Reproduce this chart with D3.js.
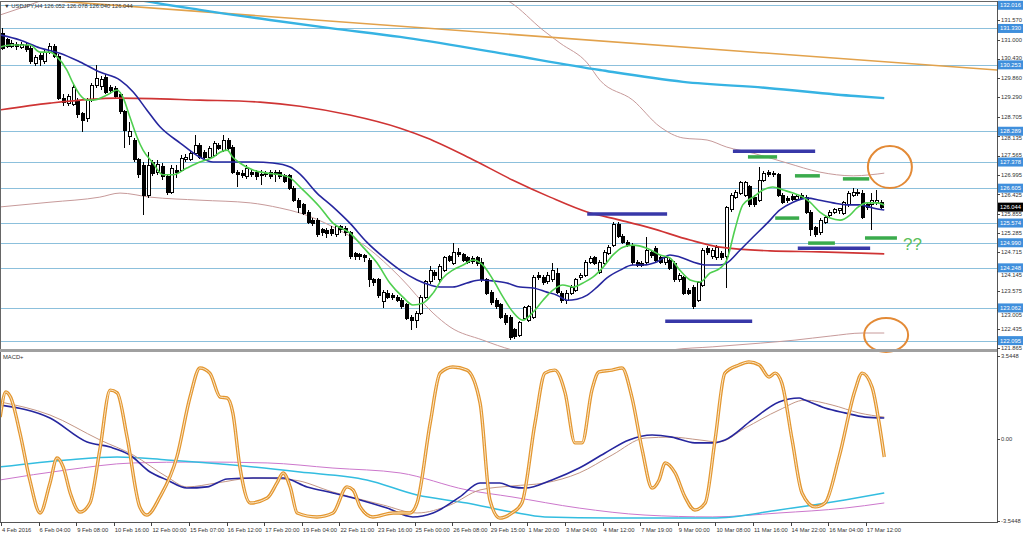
<!DOCTYPE html>
<html><head><meta charset="utf-8">
<script src="https://cdn.jsdelivr.net/npm/d3@7"></script>
<style>body{margin:0;background:#fff}svg{display:block}</style>
</head><body><svg id="c" width="1024" height="540"></svg>
<script>
// ---------- DATA ----------
const opens = [131.19,130.99,130.81,130.87,130.78,130.84,130.75,130.28,130.54,130.34,
130.63,130.81,130.51,129.27,129.12,129.09,129.21,128.80,128.68,129.21,
129.65,129.62,129.89,129.57,129.54,129.39,128.86,128.12,128.03,127.44,
127.29,126.40,127.35,127.08,127.26,126.94,126.49,127.14,127.14,127.44,
127.46,127.64,127.88,127.67,127.52,127.58,127.88,127.73,128.03,127.82,
127.08,127.05,126.94,127.08,127.08,127.02,127.05,127.08,127.08,127.08,
126.97,126.97,126.61,126.25,126.11,125.90,125.66,125.66,125.37,125.34,
125.37,125.22,125.46,125.40,125.28,124.66,124.63,124.60,124.48,123.89,
123.89,123.24,123.50,123.44,123.38,123.29,123.15,122.79,122.70,122.91,
123.38,123.83,124.12,123.89,124.18,124.57,124.39,124.71,124.63,124.54,
124.51,124.54,124.42,123.89,123.53,123.29,123.15,122.85,122.79,122.41,
122.26,122.76,122.70,122.79,124.03,123.97,123.83,123.89,124.09,123.50,
123.29,123.50,123.59,123.95,124.03,124.42,124.54,124.12,124.39,124.68,
124.92,125.54,125.19,125.01,124.92,124.42,124.39,124.42,124.71,124.83,
124.54,124.42,124.48,124.39,123.89,123.95,123.59,123.68,123.29,123.74,
124.83,124.57,124.54,124.68,124.57,125.96,126.34,126.46,126.40,126.64,
126.34,126.25,126.84,127.08,127.05,127.00,126.40,126.31,126.37,126.28,
126.40,126.34,125.90,125.43,125.28,125.60,125.81,125.90,125.93,125.87,
126.11,126.40,126.46,126.46,126.11,126.11,126.17,126.17];
const closes = [130.75,130.81,130.90,130.81,130.87,130.72,130.34,130.46,130.40,130.63,
130.81,130.51,129.27,129.15,129.33,129.57,128.77,128.62,129.21,129.65,
129.86,129.83,129.45,129.48,129.33,128.86,128.32,128.29,127.44,127.00,
126.40,127.29,127.05,127.32,126.94,126.49,127.20,127.08,127.49,127.52,
127.64,127.88,127.52,127.52,127.79,127.94,127.79,128.03,127.79,127.08,
127.00,126.97,127.20,127.00,126.94,126.97,127.00,126.94,127.02,126.94,
126.81,126.61,126.25,126.02,125.87,125.60,125.57,125.22,125.28,125.25,
125.25,125.46,125.37,125.28,124.57,124.57,124.57,124.54,123.89,123.80,
123.44,123.53,123.38,123.38,123.29,123.09,122.76,122.70,122.91,123.38,
123.83,124.18,124.03,124.30,124.54,124.48,124.71,124.63,124.48,124.42,
124.45,124.39,123.89,123.50,123.21,123.09,122.79,122.62,122.20,122.23,
122.62,123.06,123.09,123.97,123.95,123.80,124.03,124.18,123.53,123.29,
123.50,123.68,123.89,124.03,124.42,124.51,124.39,124.42,124.71,124.86,
125.54,125.19,125.01,124.92,124.42,124.33,124.33,124.77,124.60,124.48,
124.42,124.54,124.24,123.89,124.03,123.50,123.50,123.09,123.80,124.77,
124.71,124.77,124.86,124.54,126.02,126.40,126.49,126.76,126.76,126.11,
126.11,126.84,127.05,127.00,127.00,126.40,126.19,126.25,126.28,126.37,
126.31,125.90,125.37,125.22,125.66,125.75,125.90,125.96,125.99,126.17,
126.46,126.49,126.49,125.75,126.02,126.25,126.25,126.044];
const highs = [131.34,131.05,130.99,130.93,130.93,130.90,130.81,130.54,130.63,130.69,
130.90,130.87,130.57,129.39,129.39,129.65,129.27,128.86,129.27,129.71,
130.25,129.92,129.98,129.65,129.62,129.45,128.92,128.56,128.09,127.49,
127.38,127.67,127.44,127.44,127.35,127.00,127.29,127.29,127.58,127.61,
127.73,128.17,127.94,127.73,127.85,128.00,127.94,128.17,128.09,127.88,
127.14,127.14,127.29,127.14,127.14,127.14,127.11,127.14,127.14,127.14,
127.02,127.02,126.67,126.31,126.17,125.96,125.72,125.72,125.43,125.43,
125.48,125.51,125.51,125.48,125.34,124.71,124.68,124.66,124.54,123.95,
123.95,123.59,123.59,123.50,123.44,123.35,123.21,122.85,122.97,123.44,
123.89,124.30,124.18,124.36,124.60,124.63,124.98,124.83,124.68,124.60,
124.60,124.60,124.54,123.95,123.59,123.35,123.21,122.91,122.85,122.47,
122.67,123.12,123.15,124.03,124.12,124.03,124.12,124.39,124.24,123.56,
123.59,123.74,123.95,124.09,124.48,124.60,124.60,124.48,124.77,124.92,
125.60,125.60,125.25,125.07,124.98,124.48,124.45,125.16,124.77,124.89,
124.60,124.60,124.54,124.45,124.09,124.00,123.65,123.74,123.86,124.83,
124.89,124.83,124.92,124.74,126.08,126.46,126.55,126.81,126.81,126.70,
126.40,127.23,127.11,127.14,127.11,127.05,126.46,126.37,126.43,126.43,
126.46,126.40,125.96,125.48,125.72,125.81,125.96,126.02,126.02,126.22,
126.52,126.61,126.58,126.55,126.17,126.46,126.55,126.25];
const lows = [130.69,130.75,130.75,130.69,130.72,130.63,130.28,130.22,130.22,130.28,
130.57,130.46,129.21,129.03,129.03,129.03,128.68,128.26,128.56,129.15,
129.57,129.51,129.39,129.39,129.27,128.80,127.79,127.88,127.38,126.91,
125.81,126.31,126.97,127.00,126.84,126.40,126.43,126.91,127.08,127.38,
127.41,127.58,127.46,127.44,127.46,127.52,127.73,127.67,127.73,127.02,
126.64,126.91,126.88,126.94,126.84,126.70,126.94,126.88,126.79,126.88,
126.76,126.55,126.19,125.87,125.81,125.54,125.48,125.16,125.19,125.13,
125.19,125.16,125.28,125.19,124.51,124.48,124.48,124.42,123.68,123.71,
123.35,123.06,123.32,123.29,123.24,123.03,122.70,122.41,122.47,122.85,
123.32,123.77,123.89,123.83,124.12,124.42,124.33,124.57,124.42,124.36,
124.36,124.30,123.83,123.44,123.15,123.03,122.73,122.56,122.11,122.14,
122.20,122.70,122.65,122.73,123.89,123.74,123.77,123.83,123.47,123.21,
123.18,123.44,123.53,123.89,123.97,124.36,124.33,124.06,124.33,124.63,
124.86,125.13,124.95,124.86,124.33,124.27,124.27,124.36,124.54,124.42,
124.36,124.33,124.18,123.83,123.83,123.44,123.44,123.03,123.24,123.68,
124.63,124.51,124.48,124.48,123.65,125.90,126.28,126.40,126.34,126.05,
126.05,126.19,126.79,126.94,126.94,126.34,126.14,126.17,126.22,126.22,
126.25,125.84,125.19,125.16,125.22,125.54,125.75,125.84,125.84,125.81,
126.05,126.34,126.37,125.69,125.96,125.37,126.11,125.99];

// indicator lines: [bar index, value]
const greenMA = [[-0.6,130.78],[1.5,130.84],[5.7,130.84],[7.9,130.63],[10,130.63],[11.5,130.49],[13.6,130.10],[14.9,129.71],[16.4,129.36],[17.9,129.21],[19.1,129.21],[22.1,129.36],[24.3,129.51],[25.5,129.30],[27,128.71],[28.5,128.12],[29.8,127.73],[31.9,127.35],[34,127.00],[36.2,127.00],[39.1,127.20],[41.9,127.38],[44.7,127.52],[46.2,127.67],[47.7,127.73],[48.9,127.52],[50.4,127.35],[53.2,127.14],[56.2,127.05],[58.9,127.00],[61.1,126.91],[63.2,126.64],[67.4,126.05],[70.2,125.57],[73.8,125.28],[76.6,124.86],[79.6,124.39],[82.3,123.80],[85.1,123.38],[87.2,123.15],[89.4,123.21],[91.5,123.50],[93.6,123.95],[95.7,124.18],[97.9,124.33],[100,124.48],[102.1,124.33],[104.3,123.89],[106.4,123.38],[108.5,122.94],[110.6,122.70],[112.8,122.94],[114.9,123.29],[117,123.59],[119.1,123.74],[121.3,123.68],[123.4,123.80],[125.5,123.97],[127.7,124.27],[129.8,124.63],[131.9,124.86],[134,124.92],[137,124.83],[139.8,124.63],[141.9,124.54],[144,124.18],[146.2,123.89],[148.3,123.83],[150.4,124.09],[152.6,124.24],[154,124.48],[155.7,125.37],[157.4,126.11],[159.6,126.34],[161.7,126.55],[163.8,126.64],[166,126.55],[168.1,126.46],[170.2,126.34],[171.7,126.19],[173.8,125.90],[176,125.72],[178.1,125.66],[180.2,125.81],[181.7,126.02],[183.8,126.17],[186,126.17],[187.5,126.11]];
const blueMA = [[-0.6,131.14],[3.6,130.99],[7.9,130.75],[12.1,130.60],[16.4,130.34],[20.6,130.04],[24.9,129.80],[27.7,129.45],[30.6,128.92],[33.4,128.42],[37.7,127.94],[41.9,127.52],[44.7,127.38],[48.9,127.38],[53.2,127.38],[57.4,127.35],[61.1,127.23],[63.2,127.02],[66.8,126.46],[70.2,126.05],[73.8,125.57],[77.4,125.01],[80.9,124.57],[84.5,124.18],[88.1,123.89],[90.9,123.74],[93,123.68],[95.7,123.68],[98.7,123.80],[101.5,123.89],[104.3,123.86],[107.2,123.80],[110,123.68],[112.8,123.65],[115.7,123.53],[117.9,123.44],[120,123.29],[122.1,123.32],[124.3,123.44],[126.4,123.68],[128.5,123.95],[131.3,124.18],[134,124.33],[136.2,124.33],[139.1,124.42],[141.9,124.63],[144,124.57],[146.8,124.42],[149.8,124.33],[152.6,124.33],[154,124.39],[156.8,124.77],[159.6,125.16],[162.6,125.57],[165.3,125.96],[168.1,126.19],[171.1,126.31],[173.8,126.25],[176.6,126.17],[179.6,126.11],[182.3,126.11],[185.1,126.02],[187.5,125.96]];
const redMA = [[-0.6,128.92],[10,129.12],[24.3,129.27],[41.9,129.21],[54.7,129.15],[63.2,129.03],[73.8,128.77],[84.5,128.38],[90.2,128.09],[99.4,127.49],[108.5,126.84],[116.4,126.34],[124.3,125.90],[131.3,125.66],[137.7,125.43],[146.2,125.07],[152.6,124.86],[163.2,124.75],[173.8,124.72],[187.5,124.66]];
const cyanMA = [[20.6,132.41],[29.1,132.17],[41.9,131.88],[56.8,131.58],[69.6,131.34],[84.5,131.08],[105.7,130.60],[127,130.10],[144.7,129.75],[162.6,129.57],[181.3,129.33],[187.5,129.27]];
const orangeTrend = [[5.7,132.20],[211.5,130.10]];
const upperBand = [[-0.6,131.73],[8.5,132.17],[16.4,132.62],[24.9,132.91],[52.6,133.35],[84.5,133.06],[99.4,132.53],[107.9,132.11],[114.9,131.28],[118.5,130.90],[124.3,130.31],[127,129.80],[134,129.21],[139.8,128.42],[144.7,128.09],[149.8,128.03],[154,127.82],[159.6,127.64],[166.8,127.35],[173.8,127.08],[180.9,126.97],[184.5,127.00],[187.5,127.05]];
const lowerBand = [[-0.6,126.05],[10,126.19],[20.6,126.34],[24.9,126.46],[31.3,126.34],[41.9,126.25],[52.6,126.17],[58.9,126.02],[63.2,125.87],[70.2,125.46],[77.4,124.86],[84.5,123.97],[91.5,122.91],[95.1,122.50],[102.1,122.11],[108.3,121.82],[118.5,121.61],[129.1,121.58],[137.7,121.70],[142.3,121.82],[150.9,121.91],[161.1,122.02],[168.5,122.11],[176,122.23],[183,122.32],[187.5,122.32]];

// MACD+ panel
const oscLine = [[-0.6,0.92],[0.6,2.00],[1.6,1.78],[3.6,0.24],[5.7,-1.78],[7.9,-3.20],[10,-1.91],[11.5,-0.84],[12.8,-1.22],[14.3,-2.34],[16.4,-3.16],[18.5,-2.77],[20.6,-0.49],[22.8,2.08],[24.3,1.96],[26.4,0.06],[29.1,-2.94],[30.6,-3.29],[33.4,-2.51],[37,-0.79],[39.8,1.78],[41.9,3.03],[44,2.81],[46.2,1.78],[47.7,1.74],[48.9,1.10],[50.4,-1.22],[52.6,-2.77],[56.2,-2.56],[58.3,-1.91],[59.6,-1.48],[61.1,-2.08],[62.6,-3.20],[66.8,-3.37],[70.2,-3.20],[73.2,-2.08],[74.5,-2.21],[76,-2.94],[78.7,-3.37],[83,-3.20],[86.6,-3.20],[88.1,-2.77],[90.9,0.67],[93,2.81],[95.7,3.07],[98.7,2.94],[101.5,1.53],[103.6,-2.64],[105.7,-3.42],[108.3,-3.20],[110.4,-2.77],[113.2,0.67],[115.3,2.81],[117.4,2.94],[119.6,1.96],[121.7,-0.19],[123.2,-0.19],[125.3,2.08],[126.8,2.86],[129.6,2.94],[131.7,3.03],[133.8,1.78],[136,-0.49],[138.1,-2.13],[139.6,-1.78],[140.9,-1.05],[143,-1.48],[145.1,-2.51],[147.2,-3.07],[149.4,-2.77],[151.5,-0.06],[153.6,2.81],[156.6,3.16],[158.7,3.29],[160.9,3.16],[163,2.64],[164.3,2.81],[165.7,2.39],[167.9,-0.06],[170,-2.34],[172.8,-2.94],[174.9,-2.77],[177.9,-0.79],[181.3,2.08],[182.8,2.81],[184.9,2.21],[186.4,0.67],[187.5,-0.79]];
const macdMain = [[-0.6,1.44],[10,0.88],[17.9,-0.15],[22.8,-0.37],[27,-0.71],[31.3,-1.44],[34.9,-1.78],[39.1,-2.13],[43.4,-2.08],[47.7,-1.74],[53.2,-1.70],[59.6,-1.70],[64.7,-2.08],[70.2,-2.34],[76,-2.64],[81.7,-2.99],[87.2,-3.37],[91.5,-3.20],[97.2,-2.51],[101.5,-1.91],[105.7,-1.91],[108.3,-2.08],[111.1,-2.13],[116.8,-1.78],[122.6,-1.27],[128.1,-0.62],[133.2,-0.06],[138.1,0.15],[142.3,0.06],[147.2,-0.19],[150.9,-0.19],[153.6,-0.06],[159.4,0.80],[165.1,1.57],[169.4,1.74],[170.6,1.65],[174.9,1.31],[179.1,1.10],[183.4,0.92],[187.5,0.88]];
const macdSignal = [[-0.6,1.57],[10,1.01],[20.6,-0.06],[27.7,-0.71],[34.9,-1.65],[39.1,-2.08],[45.5,-1.91],[53.2,-1.70],[61.7,-1.78],[70.2,-2.30],[80.9,-2.86],[88.1,-3.20],[95.1,-2.86],[101.5,-2.21],[108.3,-2.04],[115.3,-1.91],[122.6,-1.48],[129.6,-0.71],[136.6,0.02],[142.3,0.06],[148.1,-0.06],[152.3,-0.15],[157.9,0.45],[165.1,1.22],[170.6,1.65],[176.4,1.44],[182.1,1.10],[187.5,0.92]];
const macdCyan = [[-0.6,-1.22],[13.6,-0.92],[24.3,-0.79],[34.9,-0.92],[48.9,-1.14],[63.2,-1.44],[77.4,-1.78],[88.1,-2.43],[98.7,-2.77],[108.3,-3.16],[115.3,-3.37],[129.6,-3.42],[150.9,-3.42],[165.1,-3.07],[179.1,-2.64],[187.5,-2.34]];
const macdViolet = [[-0.6,-1.78],[13.6,-1.35],[27.7,-1.05],[41.9,-1.01],[56.2,-1.05],[70.2,-1.27],[84.5,-1.48],[98.7,-2.21],[108.3,-2.51],[122.6,-2.99],[136.6,-3.29],[150.9,-3.37],[165.1,-3.20],[179.1,-2.99],[187.5,-2.77]];

// axes / labels
const priceTicks = [131.570,131.000,130.430,129.860,129.290,128.705,128.135,127.565,126.995,126.425,125.855,125.285,124.715,124.145,123.575,123.005,122.435,121.865];
const levels = [132.016,131.330,130.253,128.289,127.378,126.605,125.574,124.990,124.248,123.062,122.095];
const lastPrice = 126.044;
const macdTicks = [3.5448,0,-3.5448];
const macdTickText = ["3.5448","0.00","-3.5448"];
const tickBars = [0,8,16,24,32,40,48,56,64,72,80,88,96,104,112,120,128,136,144,152,160,168,176,184];
const tickLabels = ["4 Feb 2016","6 Feb 04:00","9 Feb 08:00","10 Feb 16:00","12 Feb 00:00","15 Feb 07:00","16 Feb 12:00","17 Feb 20:00","19 Feb 04:00","22 Feb 11:00","23 Feb 16:00","25 Feb 00:00","26 Feb 08:00","29 Feb 15:00","1 Mar 20:00","3 Mar 04:00","4 Mar 12:00","7 Mar 19:00","9 Mar 00:00","10 Mar 08:00","11 Mar 16:00","14 Mar 22:00","16 Mar 04:00","17 Mar 12:00"];
const titleText = "\u25BC USDJPY,H4  126.052 126.078 126.040 126.044";
const macdTitle = "MACD+";

// hand-drawn annotations: [fromBar, toBar, price]
const navySegs = [[124.3,141.3,125.84],[155.3,172.8,127.70],[140.9,159.4,122.67],[169.1,184.5,124.83]];
const greenSegs = [[158.5,164.7,127.53],[168.5,173.8,126.97],[178.7,184.3,126.88],[164.3,169.4,125.72],[171.3,177.0,124.98],[183.4,190.2,125.13]];
const circles = [[188.7,127.23],[187.9,122.26]];
const noteText = [[191.5,124.77,"??"]];

// ---------- DRAW ----------
const svg = d3.select('#c');
const FONT = "'Liberation Sans', Arial, sans-serif";
const plotR = 997, mainTop = 2, mainBot = 349, macdTop = 353, macdBot = 522;
const x = d3.scaleLinear().domain([0, 187]).range([3, 3 + 187 * 4.7]);
const y = d3.scaleLinear().domain([121.847, 132.113]).range([mainBot, mainTop]);
const ym = d3.scaleLinear().domain([-3.5448, 3.5448]).range([521, 356]);

const defs = svg.append('defs');
defs.append('clipPath').attr('id', 'cm').append('rect')
  .attr('x', 1).attr('y', mainTop).attr('width', plotR - 1).attr('height', mainBot - mainTop);
defs.append('clipPath').attr('id', 'cd').append('rect')
  .attr('x', 1).attr('y', macdTop).attr('width', plotR - 1).attr('height', macdBot - macdTop);

svg.append('rect').attr('width', 1024).attr('height', 540).attr('fill', '#fff');

const gMain = svg.append('g').attr('clip-path', 'url(#cm)');
gMain.selectAll('line.lv').data(levels).join('line').attr('class', 'lv')
  .attr('x1', 0).attr('x2', plotR)
  .attr('y1', d => Math.round(y(d)) + 0.5).attr('y2', d => Math.round(y(d)) + 0.5)
  .attr('stroke', '#8cc0dc').attr('stroke-width', 1);

const smooth = d3.line().x(d => x(d[0])).y(d => y(d[1])).curve(d3.curveMonotoneX);
const straight = d3.line().x(d => x(d[0])).y(d => y(d[1]));
function path(g, data, gen, color, w) {
  return g.append('path').datum(data).attr('d', gen).attr('fill', 'none')
    .attr('stroke', color).attr('stroke-width', w).attr('stroke-linejoin', 'round');
}
path(gMain, upperBand, smooth, '#c79a9a', 1);
path(gMain, lowerBand, smooth, '#c79a9a', 1);
path(gMain, orangeTrend, straight, '#e2a24c', 1.6);
path(gMain, cyanMA, smooth, '#36b3e3', 2.4);

// candles
const bars = d3.range(opens.length).map(i => ({i, o: opens[i], h: highs[i], l: lows[i], c: closes[i]}));
const gC = gMain.append('g').attr('shape-rendering', 'crispEdges');
gC.selectAll('line.w').data(bars).join('line').attr('class', 'w')
  .attr('x1', d => Math.round(x(d.i)) - 0.5).attr('x2', d => Math.round(x(d.i)) - 0.5)
  .attr('y1', d => y(d.h)).attr('y2', d => y(d.l)).attr('stroke', '#000').attr('stroke-width', 1);
gC.selectAll('rect.b').data(bars).join('rect').attr('class', 'b')
  .attr('x', d => Math.round(x(d.i)) - 1.5).attr('width', 3)
  .attr('y', d => y(Math.max(d.o, d.c)))
  .attr('height', d => Math.max(0.8, Math.abs(y(d.o) - y(d.c))))
  .attr('fill', d => d.c >= d.o ? '#fff' : '#000').attr('stroke', '#000').attr('stroke-width', 1);

path(gMain, redMA, smooth, '#cf3434', 1.6);
path(gMain, blueMA, smooth, '#26269e', 1.6);
path(gMain, greenMA, smooth, '#4fcf4f', 1.6);

// annotations
const gA = svg.append('g');
gA.selectAll('line.ns').data(navySegs).join('line').attr('class', 'ns')
  .attr('x1', d => x(d[0])).attr('x2', d => x(d[1])).attr('y1', d => y(d[2])).attr('y2', d => y(d[2]))
  .attr('stroke', '#3838a8').attr('stroke-width', 3.5);
gA.selectAll('line.gs').data(greenSegs).join('line').attr('class', 'gs')
  .attr('x1', d => x(d[0])).attr('x2', d => x(d[1])).attr('y1', d => y(d[2])).attr('y2', d => y(d[2]))
  .attr('stroke', '#3aab4c').attr('stroke-width', 3.5);
gA.selectAll('ellipse').data(circles).join('ellipse')
  .attr('cx', d => x(d[0])).attr('cy', d => y(d[1])).attr('rx', 22).attr('ry', (d, k) => k === 0 ? 21 : 17)
  .attr('fill', 'none').attr('stroke', '#e38a36').attr('stroke-width', 2);
gA.selectAll('text.note').data(noteText).join('text').attr('class', 'note')
  .attr('x', d => x(d[0])).attr('y', d => y(d[1])).text(d => d[2])
  .attr('font-family', FONT).attr('font-size', 17).attr('fill', '#5cc05c');

// MACD panel
const gM = svg.append('g').attr('clip-path', 'url(#cd)');
const smoothM = d3.line().x(d => x(d[0])).y(d => ym(d[1])).curve(d3.curveMonotoneX);
path(gM, macdViolet, smoothM, '#cc77cc', 1);
path(gM, macdCyan, smoothM, '#33bde0', 1.5);
path(gM, macdSignal, smoothM, '#c39685', 1);
path(gM, macdMain, smoothM, '#26269e', 1.6);
path(gM, oscLine, smoothM, '#e3962f', 3.4);
path(gM, oscLine, smoothM, '#fdf0dc', 0.9);

// frame
const gF = svg.append('g').attr('shape-rendering', 'crispEdges');
gF.append('line').attr('x1', 0).attr('x2', plotR).attr('y1', 1.5).attr('y2', 1.5).attr('stroke', '#666');
gF.append('line').attr('x1', 0.5).attr('x2', 0.5).attr('y1', 1).attr('y2', macdBot).attr('stroke', '#666');
gF.append('rect').attr('x', 0).attr('y', mainBot).attr('width', plotR).attr('height', 3).attr('fill', '#a0a0a0');
gF.append('line').attr('x1', plotR + 0.5).attr('x2', plotR + 0.5).attr('y1', 1).attr('y2', macdBot + 1).attr('stroke', '#555');
gF.append('line').attr('x1', 0).attr('x2', plotR + 1).attr('y1', macdBot + 0.5).attr('y2', macdBot + 0.5).attr('stroke', '#555');

// right price axis
const gR = svg.append('g').attr('font-family', FONT).attr('font-size', 5.8);
const boxes = levels.concat([lastPrice]).map(p => [y(p) - 4.5, y(p) + 4.5]);
// place each tick text so it is not hidden by a highlighted level box
function tickBase(p) {
  let base = y(p) + 2;
  for (const [t, b] of boxes) {
    const top = base - 4.3;
    if (top < b && base > t) {
      base = (y(p) < (t + b) / 2) ? t - 0.3 : b + 4.6;
    }
  }
  return base;
}
gR.selectAll('line.pt').data(priceTicks).join('line').attr('class', 'pt')
  .attr('x1', plotR).attr('x2', plotR + 3).attr('y1', d => Math.round(y(d)) + 0.5).attr('y2', d => Math.round(y(d)) + 0.5)
  .attr('stroke', '#444');
gR.selectAll('text.pt').data(priceTicks).join('text').attr('class', 'pt')
  .attr('x', plotR + 4).attr('y', d => tickBase(d)).text(d => d.toFixed(3)).attr('fill', '#333');
const lv = gR.selectAll('g.lv').data(levels).join('g').attr('class', 'lv');
lv.append('rect').attr('x', plotR + 1).attr('y', d => y(d) - 4.5).attr('width', 25).attr('height', 9).attr('fill', '#3f8fdc');
lv.append('text').attr('x', plotR + 3).attr('y', d => y(d) + 2).text(d => d.toFixed(3)).attr('fill', '#fff');
gR.append('rect').attr('x', plotR + 1).attr('y', y(lastPrice) - 4.5).attr('width', 25).attr('height', 9).attr('fill', '#000');
gR.append('text').attr('x', plotR + 3).attr('y', y(lastPrice) + 2).text(lastPrice.toFixed(3)).attr('fill', '#fff');

// MACD axis
gR.selectAll('text.mt').data(macdTicks).join('text').attr('class', 'mt')
  .attr('x', plotR + 4).attr('y', d => ym(d) + 2).text((d, k) => macdTickText[k]).attr('fill', '#333');
gR.selectAll('line.mt').data(macdTicks).join('line').attr('class', 'mt')
  .attr('x1', plotR).attr('x2', plotR + 3).attr('y1', d => Math.round(ym(d)) + 0.5).attr('y2', d => Math.round(ym(d)) + 0.5)
  .attr('stroke', '#444');

// time axis
const gB = svg.append('g').attr('font-family', FONT).attr('font-size', 5.8);
gB.selectAll('line').data(tickBars).join('line')
  .attr('x1', d => Math.round(x(d)) - 1.5).attr('x2', d => Math.round(x(d)) - 1.5)
  .attr('y1', macdBot).attr('y2', macdBot + 4).attr('stroke', '#444');
gB.selectAll('text').data(tickBars).join('text')
  .attr('x', d => x(d) - 1).attr('y', macdBot + 10).text((d, k) => tickLabels[k]).attr('fill', '#333');

// titles
svg.append('text').attr('x', 4).attr('y', 8).text(titleText)
  .attr('font-family', FONT).attr('font-size', 5.8).attr('fill', '#333');
svg.append('text').attr('x', 3).attr('y', macdTop + 6).text(macdTitle)
  .attr('font-family', FONT).attr('font-size', 5.8).attr('fill', '#333');
</script></body></html>
